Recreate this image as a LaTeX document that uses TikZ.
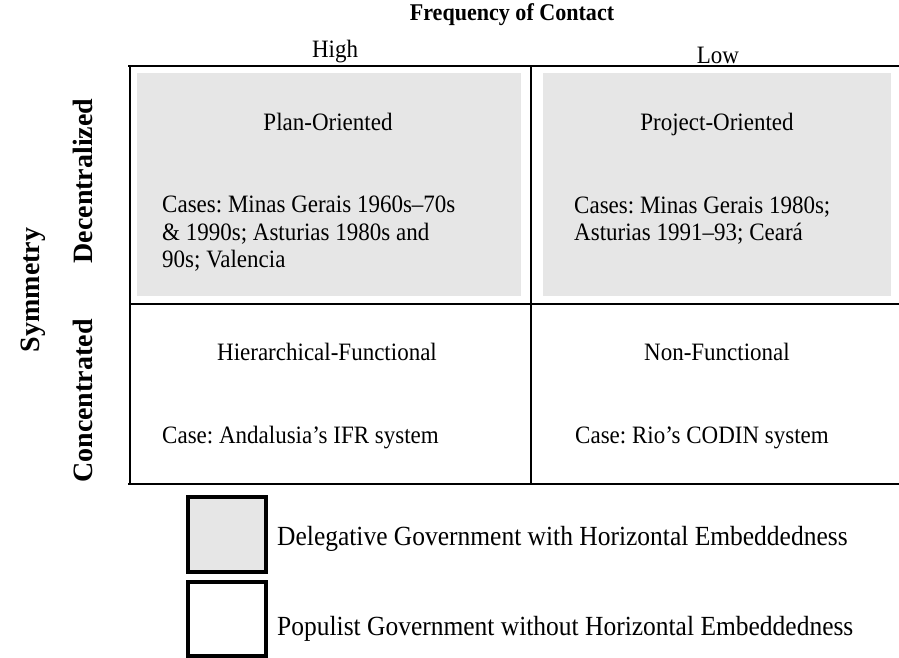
\documentclass[tikz,border=0pt]{standalone}
\usepackage{fontspec}
\setmainfont{Liberation Serif}
\newfontfamily\narrowserif{Liberation Serif}[FakeStretch=0.92,Ligatures=TeX]
\definecolor{cellgrey}{HTML}{E6E6E6}
\frenchspacing
\begin{document}
\begin{tikzpicture}[x=1pt,y=-1pt,
  grid/.style={line width=2pt,black},
  greybox/.style={fill=cellgrey,draw=none},
  legbox/.style={draw=black,line width=3.5pt},
  txt/.style={font=\narrowserif\fontsize{25}{27.5}\selectfont,inner sep=0pt},
  casetxt/.style={txt,anchor=west,align=left},
  legtxt/.style={font=\narrowserif\fontsize{27.7}{30}\selectfont,inner sep=0pt,anchor=west},
  axis/.style={font=\narrowserif\fontsize{24}{26}\selectfont\bfseries,inner sep=0pt},
  raxis/.style={font=\fontsize{28}{30}\selectfont\bfseries,inner sep=0pt,rotate=90}]
\useasboundingbox (0,0) rectangle (899,658);
% grey cells
\fill[greybox] (137,73) rectangle (521,296);
\fill[greybox] (543,73) rectangle (891,296);
% grid
\coordinate (tl) at (128,66); \coordinate (tr) at (899,66);
\coordinate (bl) at (128,484); \coordinate (br) at (899,484);
\coordinate (lt) at (130,66); \coordinate (lb) at (130,484);
\coordinate (mt) at (531,66); \coordinate (mb) at (531,484);
\coordinate (ml) at (130,304); \coordinate (mr) at (899,304);
\draw[grid] (tl) -- (tr);
\draw[grid] (bl) -- (br);
\draw[grid] (lt) -- (lb);
\draw[grid] (mt) -- (mb);
\draw[grid] (ml) -- (mr);
% headers
\node[axis] (freq) at (512,15) {Frequency of Contact};
\node[txt] (high) at (335,52) {High};
\node[txt] (low) at (718,55) {Low};
\node[raxis] (sym) at (33,290) {Symmetry};
\node[raxis] (dec) at (83,181) {Decentralized};
\node[raxis] (con) at (83,401) {Concentrated};
% cells
\node[txt] (plan) at (328,122) {Plan-Oriented};
\node[txt,anchor=base] (proj) at (717,130.5) {Project-Oriented};
\node[casetxt] (planc) at (162,234) {Cases: Minas Gerais 1960s–70s\\\& 1990s; Asturias 1980s and\\90s; Valencia};
\node[casetxt] (projc) at (574,220.5) {Cases: Minas Gerais 1980s;\\Asturias 1991–93; Ceará};
\node[txt] (hier) at (327,352) {Hierarchical-Functional};
\node[txt] (nonf) at (717,352) {Non-Functional};
\node[casetxt] (hierc) at (162,438) {Case: Andalusia’s IFR system};
\node[casetxt] (nonfc) at (575,438) {Case: Rio’s CODIN system};
% legend
\draw[legbox,fill=cellgrey] (188,497) rectangle (266,572);
\draw[legbox,fill=white] (188,582) rectangle (266,656);
\node[legtxt] (leg1) at (277,539) {Delegative Government with Horizontal Embeddedness};
\node[legtxt] (leg2) at (277,629) {Populist Government without Horizontal Embeddedness};
\end{tikzpicture}
\end{document}
